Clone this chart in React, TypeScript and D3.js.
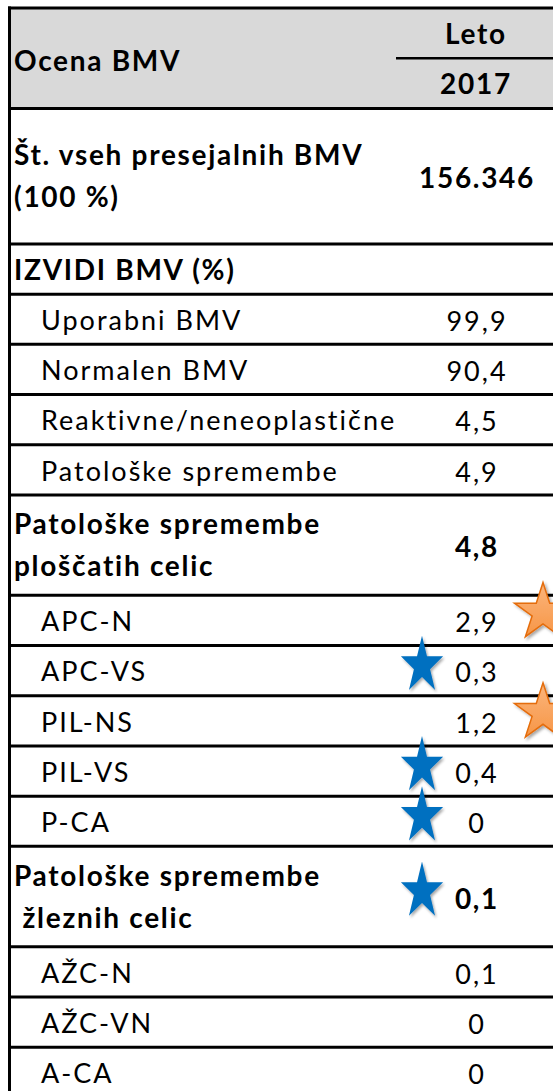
import { useEffect, useRef } from "react";
import * as d3 from "d3";

const headerLabel = "Ocena BMV";
const yearHeader = ["Leto", "2017"];

const rowLabels: string[][] = [
  ["Št. vseh presejalnih BMV", "(100 %)"],
  ["IZVIDI BMV (%)"],
  ["Uporabni BMV"],
  ["Normalen BMV"],
  ["Reaktivne/neneoplastične"],
  ["Patološke spremembe"],
  ["Patološke spremembe", "ploščatih celic"],
  ["APC-N"],
  ["APC-VS"],
  ["PIL-NS"],
  ["PIL-VS"],
  ["P-CA"],
  ["Patološke spremembe", " žleznih celic"],
  ["AŽC-N"],
  ["AŽC-VN"],
  ["A-CA"],
];

const rowValues: (number | null)[] = [
  156346, null, 99.9, 90.4, 4.5, 4.9, 4.8, 2.9, 0.3, 1.2, 0.4, 0, 0.1, 0.1, 0, 0,
];

// row heights in "line units"
const rowSpans = [2.7, 1, 1, 1, 1, 1, 2, 1, 1, 1, 1, 1, 2, 1, 1, 1];
const boldRows = [0, 1, 6, 12];
const blueStarRows = [8, 10, 11, 12];
const orangeStarRows = [7, 9];

const WIDTH = 553;
const HEIGHT = 1091;
const TOP = 8;
const UNIT = 50.2;
const HEADER_SPAN = 2;
const VALUE_X = 476;
const FONT = "Lato, 'Open Sans', sans-serif";

const locale = d3.formatLocale({
  decimal: ",",
  thousands: ".",
  grouping: [3],
  currency: ["", ""],
});
const fmtCount = locale.format(",d");
const fmtPct = locale.format(".1~f");

export default function App() {
  const svgRef = useRef<SVGSVGElement>(null);

  useEffect(() => {
    if (!svgRef.current) return;
    const svg = d3.select(svgRef.current);
    svg.selectAll("*").remove();

    const defs = svg.append("defs");
    defs
      .append("filter")
      .attr("id", "shadow")
      .attr("x", "-30%")
      .attr("y", "-30%")
      .attr("width", "160%")
      .attr("height", "160%")
      .append("feDropShadow")
      .attr("dx", 2)
      .attr("dy", 2)
      .attr("stdDeviation", 1.5)
      .attr("flood-opacity", 0.35);
    const grad = defs
      .append("linearGradient")
      .attr("id", "orangeGrad")
      .attr("x1", 0)
      .attr("y1", 0)
      .attr("x2", 0)
      .attr("y2", 1);
    grad.append("stop").attr("offset", "0%").attr("stop-color", "#fbb57c");
    grad.append("stop").attr("offset", "100%").attr("stop-color", "#f79646");

    const starts = [HEADER_SPAN, ...d3.cumsum(rowSpans).map((d) => d + HEADER_SPAN)];
    const total = starts[starts.length - 1];
    const y = d3
      .scaleLinear()
      .domain([0, total])
      .range([TOP, TOP + total * UNIT]);
    const rowCenter = (i: number) => (y(starts[i]) + y(starts[i + 1])) / 2;

    // header background
    svg
      .append("rect")
      .attr("x", 9.5)
      .attr("y", y(0))
      .attr("width", WIDTH)
      .attr("height", y(HEADER_SPAN) - y(0))
      .attr("fill", "#d9d9d9");

    // horizontal rules
    svg
      .append("g")
      .selectAll("line")
      .data([0, ...starts.slice(0, -1)])
      .enter()
      .append("line")
      .attr("x1", 8)
      .attr("x2", WIDTH + 5)
      .attr("y1", (d) => y(d))
      .attr("y2", (d) => y(d))
      .attr("stroke", "#000")
      .attr("stroke-width", 3);

    // left border
    svg
      .append("line")
      .attr("x1", 9.5)
      .attr("x2", 9.5)
      .attr("y1", y(0) - 1.5)
      .attr("y2", HEIGHT + 5)
      .attr("stroke", "#000")
      .attr("stroke-width", 3);

    // line under "Leto"
    svg
      .append("line")
      .attr("x1", 396)
      .attr("x2", WIDTH + 5)
      .attr("y1", y(1))
      .attr("y2", y(1))
      .attr("stroke", "#000")
      .attr("stroke-width", 2.5);

    const text = (
      x: number,
      cy: number,
      s: string,
      bold: boolean,
      anchor = "start",
    ) =>
      svg
        .append("text")
        .attr("x", x)
        .attr("y", cy)
        .attr("dy", "0.36em")
        .attr("text-anchor", anchor)
        .style("font-family", FONT)
        .style("font-size", bold ? "28px" : "27px")
        .style("font-weight", bold ? "700" : "400")
        .style("letter-spacing", bold ? "1.7px" : "2px")
        .style("white-space", "pre")
        .attr("fill", "#000")
        .text(s);

    // header texts
    text(14, y(1) + 3, headerLabel, true);
    text(VALUE_X, y(0.5) + 1, yearHeader[0], true, "middle");
    text(VALUE_X, y(1.5) + 1, yearHeader[1], true, "middle");

    // body rows
    rowLabels.forEach((lines, i) => {
      const bold = boldRows.includes(i);
      const cy = rowCenter(i);
      const x = bold ? 14 : 41;
      if (lines.length === 1) {
        text(x, cy + 1, lines[0], bold);
      } else {
        text(x, cy - 21, lines[0], bold);
        text(x, cy + 21, lines[1], bold);
      }
      const v = rowValues[i];
      if (v !== null) {
        const s = v >= 1000 ? fmtCount(v) : fmtPct(v);
        text(VALUE_X + 1, cy + 2, s, bold, "middle");
      }
    });

    // stars
    const star = d3.symbol(d3.symbolStar, 1010);
    svg
      .append("g")
      .selectAll("path")
      .data(blueStarRows)
      .enter()
      .append("path")
      .attr("d", star() as string)
      .attr(
        "transform",
        (i) => `translate(${VALUE_X - 54},${rowCenter(i) - 5}) scale(0.74,1)`,
      )
      .attr("fill", "#0070c0")
      .attr("filter", "url(#shadow)");

    svg
      .append("g")
      .selectAll("path")
      .data(orangeStarRows)
      .enter()
      .append("path")
      .attr("d", star() as string)
      .attr("transform", (i) => `translate(${VALUE_X + 67},${rowCenter(i) - 8})`)
      .attr("fill", "url(#orangeGrad)")
      .attr("stroke", "#e46c0a")
      .attr("stroke-width", 1.5)
      .attr("filter", "url(#shadow)");
  }, []);

  return (
    <svg
      ref={svgRef}
      width={WIDTH}
      height={HEIGHT}
      viewBox={`0 0 ${WIDTH} ${HEIGHT}`}
      style={{ position: "absolute", left: 0, top: 0, background: "#fff" }}
    />
  );
}
